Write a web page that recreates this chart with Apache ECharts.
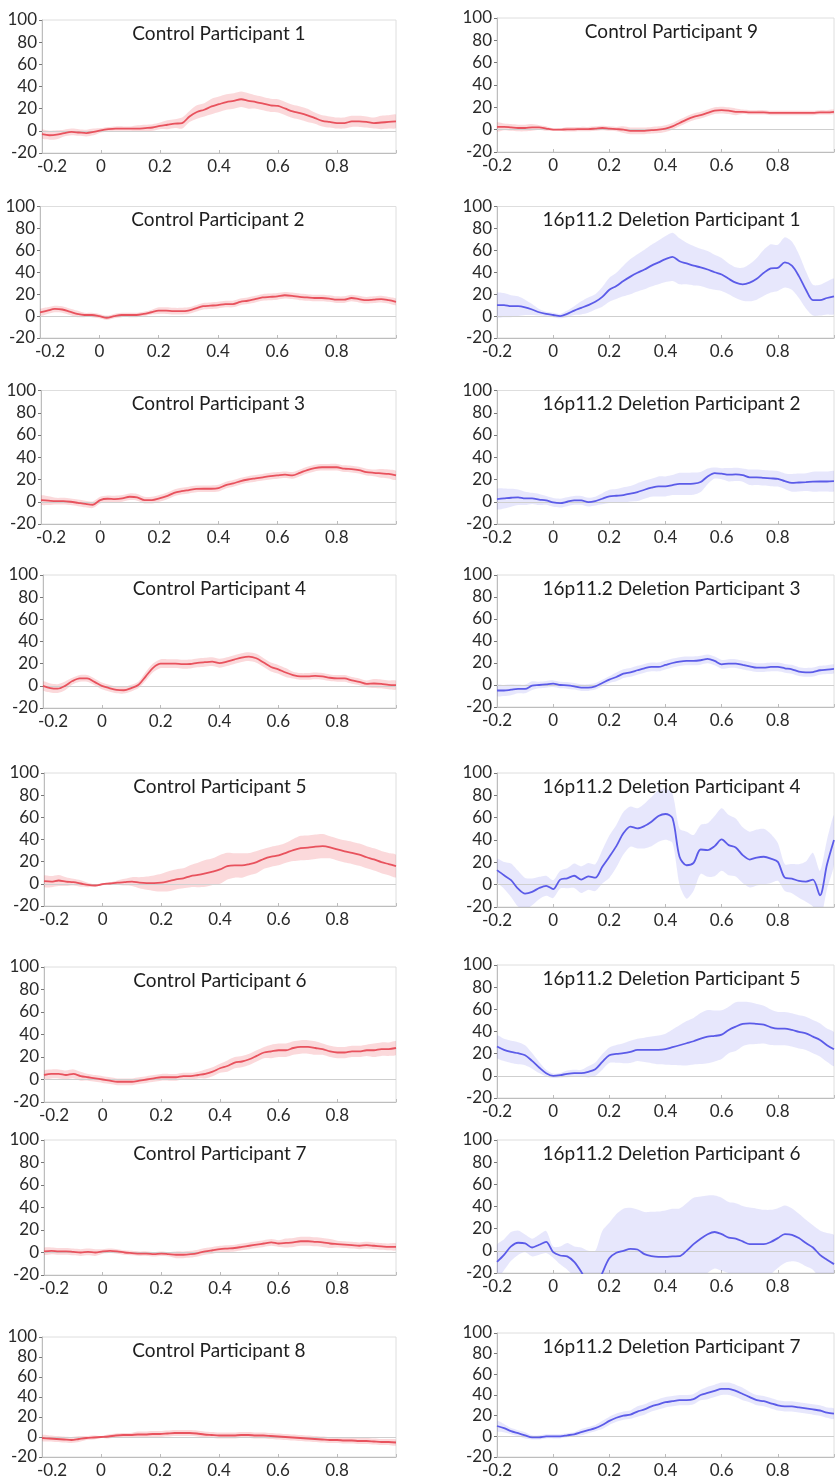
<!DOCTYPE html>
<html><head><meta charset="utf-8">
<script src="https://cdn.jsdelivr.net/npm/echarts@6/dist/echarts.min.js"></script>
<style>html,body{margin:0;padding:0;background:#fff;overflow:hidden}#chart{width:837px;height:1479px}</style>
</head><body><div id="chart"></div>
<script>
// time (s), sampled every 25 ms from -0.2 to 1.0
const timeSec = [
 -0.2,-0.175,-0.15,-0.125,-0.1,-0.075,-0.05,
 -0.025,0,0.025,0.05,0.075,0.1,0.125,
 0.15,0.175,0.2,0.225,0.25,0.275,0.3,
 0.325,0.35,0.375,0.4,0.425,0.45,0.475,
 0.5,0.525,0.55,0.575,0.6,0.625,0.65,
 0.675,0.7,0.725,0.75,0.775,0.8,0.825,
 0.85,0.875,0.9,0.925,0.95,0.975,1.0];
const xTickLabels = [-0.2,0,0.2,0.4,0.6,0.8];
const yTickLabels = [-20,0,20,40,60,80,100];

const control1Mean = [-3,-4,-3.5,-2,-1,-1.5,-2, -1,0.5,1.5,2,2,2,2, 2.5,3,4.5,5.5,6.5,7,13, 17,19,22,24,26,27,28.5, 27,26,24.5,23,22.5,20,17.5, 16,14,11.5,9,8,7,7, 8.5,8.5,8,7,7.5,8,8.5];
const control1Err  = [4,4,4,3,3,3,3, 3,2,2,2,2,2,3, 3,3,3,4,4,5,5, 6,6,7,7,7,7,7, 7,6,6,6,6,6,6, 6,6,5,5,5,5,5, 5,5,5,5,6,6,6];
const control2Mean = [3.3,5,6.5,6,4,2,1, 1,0,-1.5,0,1,1,1, 2,3.5,5,5,4.5,4.5,5, 7,9,9.5,10,11,11,13, 14,15.5,17,17.5,18,19,18.5, 17.5,17,16.5,16.5,16,15,15, 16.5,15.5,14.5,15,15.5,14.5,13];
const control2Err  = [3,3,3,3,3,3,2, 2,2,2,2,2,2,2, 2,2,3,3,3,3,3, 3,3,3,3,3,3,3, 3,3,3,3,3,3,3, 3,3,3,3,3,3,3, 3,3,3,3,3,3,3];
const control3Mean = [1.5,1,0.5,0.5,0,-1,-2, -2.7,1.5,2.7,2.4,3,4.5,4, 1.5,1.5,3,5,8,9.5,10.5, 11.5,11.7,11.7,12.3,15,16.5,18.6, 20,21,22,23,23.7,24.3,23.7, 26,28.5,30.3,31,31,31,29.7, 29.4,28.5,26.7,26,25.5,25,23.7];
const control3Err  = [4,4,3,3,3,3,3, 3,3,3,3,3,3,3, 3,3,3,3,3,3,3, 3,3,3,3,3,3,3, 3,3,3,3,3,3,3, 3,3,3,3,3,3,3, 3,3,3,3,4,4,4];
const control4Mean = [0,-2,-2.5,0,4.3,6.7,6.7, 3.6,0,-2,-3.6,-4,-2,1, 8.8,16.4,20,20,20,19.5,19.7, 20.7,21.3,21.8,20.4,21.8,23.7,25.5, 26.4,24.9,21,17,14.9,12,9.7, 8.5,8.5,9,8.5,7.3,6.7,6.7, 4.9,3.6,1.8,2.1,1.8,0.9,0.6];
const control4Err  = [4,4,4,4,3,3,3, 3,3,3,3,3,3,3, 4,4,4,4,4,4,4, 4,4,4,4,4,4,4, 4,4,4,4,4,4,3, 3,3,3,3,3,3,3, 3,3,3,4,4,4,4];
const control5Mean = [2.4,2,3,2,1.5,0.3,-1, -1.5,-0.3,0.3,1,1.5,2,1, 0.6,0.6,1,2.4,4,5,7, 8,9.4,11,13,16,16.6,16.6, 17.8,19.6,22.6,24.5,25.7,28,30.5, 32.3,32.6,33.5,34,33,31,29.3, 28,26.3,24,22,19.6,17.8,16];
const control5Err  = [5,5,5,4,3,3,2, 1,1,1,2,3,4,5, 6,7,8,9,9,9,10, 11,12,12,13,12,11,11, 10,10,9,9,9,9,10, 11,11,11,11,10,10,10, 10,10,10,10,10,10,10];
const control6Mean = [4,5,5,4,5,3,2, 1,0,-1,-2,-2,-2,-1, 0,1,2,2,2,3,3, 4,5,7,10,12,15,16, 18,21,24,25,26,26,28, 29,29,28,27,25,24,24, 25,25,26,26,27,27,28];
const control6Err  = [4,4,4,4,4,4,3, 3,3,3,3,3,3,3, 3,3,3,3,3,3,3, 3,4,4,4,5,5,5, 5,5,5,6,6,6,6, 6,6,6,5,5,5,5, 5,5,5,6,6,6,6];
const control7Mean = [1,1.5,1,1,0.5,0,0.5, 0,1,1.5,1,0,-0.5,-1, -1,-1.5,-1,-1.5,-2,-2,-1.5, -0.5,1,2,3,3.5,4,5, 6,7,8,9,8,8.5,9, 10,10,9.5,9,8,7.5,7, 6.5,6,6.5,6,5.5,5,5];
const control7Err  = [3,3,3,3,3,3,3, 3,2,2,2,2,2,2, 2,2,2,2,3,3,3, 3,3,3,3,3,3,3, 3,3,3,3,3,4,4, 4,4,4,4,4,3,3, 3,3,3,3,3,3,3];
const control8Mean = [-1,-1.5,-2,-2.5,-3,-2,-1, -0.5,0,0.5,1.5,2,2,2.5, 2.5,3,3,3.5,4,4,4, 3.5,2.5,2,1.5,1.5,1.5,2, 2,1.5,1.5,1,0.5,0,-0.5, -1,-1.5,-2,-2.5,-3,-3,-3.5, -3.5,-4,-4,-4.5,-5,-5,-5.5];
const control8Err  = [3,3,3,3,3,3,2, 2,1,2,2,2,2,3, 3,3,3,3,3,3,3, 3,3,3,3,3,3,3, 3,3,3,3,3,3,3, 3,3,3,3,3,3,3, 3,3,3,3,3,3,3];
const control9Mean = [2.5,2.5,2,1.5,1.5,2,2, 1,0,0,0.3,0.3,0.5,0.5, 1,1.5,1,0.5,0,-1,-1, -1,-0.5,0,1,3,6,9, 11.5,13,15,17,17.5,17,16, 16,15.5,15.5,15.5,15,15,15, 15,15,15,15,15.5,15.5,16];
const control9Err  = [4,3,3,3,3,3,2, 2,1,1,2,2,2,2, 2,2,2,2,3,3,3, 3,3,3,3,3,3,3, 3,3,3,3,3,3,3, 2,2,2,2,2,2,2, 2,2,2,2,2,2,2];
const deletion1Mean = [10,10,9,9,8,6,3.5, 2,1,0,2,5,7.5,10, 13,17.5,24,27.5,32,36,39.5, 42.5,46,49,52,54,50,48, 46,44.5,42.5,40,38,34,30.5, 29,30.5,34,39.5,43.5,44,49, 46,36.5,24,14.5,14.5,16.5,18];
const deletion1Err  = [11,11,10,9,7,5,3, 2,2,2,3,4,6,7, 7,9,11,12,14,16,17, 18,19,20,21,22,21,19, 18,17,17,16,15,14,14, 15,17,19,21,22,21,23, 22,20,17,14,14,15,16];
const deletion2Mean = [2.4,3,3.6,4,3,3,2, 1.2,-0.6,-1.2,0,1.2,1.2,-0.3, 0.6,2.7,4.8,5.4,6,7.2,8.7, 10.8,12.6,13.8,13.8,15,16,16, 16.2,17.7,22.8,25.8,25.2,24.3,24.6, 24,22,22,21.5,21,20.6,18.5, 17,17.3,17.6,18,18.2,18.2,18.5];
const deletion2Err  = [9,9,8,7,6,5,5, 4,4,4,4,4,4,4, 4,5,6,6,7,7,8, 8,8,9,9,9,10,10, 10,9,7,5,5,6,6, 6,7,7,7,7,7,7, 8,8,8,9,9,9,9];
const deletion3Mean = [-5,-5,-4.3,-3.6,-3.6,-0.6,0, 0.6,1.2,0,-0.3,-1.2,-2.4,-2.4, -1.2,1.8,4.9,7.3,10.3,11.5,13.4, 15.2,16.4,16.4,18.2,20,21.3,21.9, 21.9,22.5,23.7,21.9,18.8,19.5,19.5, 18.2,17,15.8,15.8,16.4,16.4,15.2, 14.3,12.2,11.5,11.8,13.4,14,14.6];
const deletion3Err  = [5,5,5,4,4,4,3, 3,3,3,3,3,3,3, 3,3,3,4,4,4,4, 4,4,4,4,4,4,4, 4,4,4,4,4,4,4, 4,4,4,4,4,4,4, 4,4,4,4,4,4,4];
const deletion4Mean = [13,8.4,4,-3.6,-8,-6.5,-3, -1,-4,4.5,5.7,8,4.5,7.5, 6.3,16,25,34.5,46,52,50.4, 52.5,56.4,61.5,63.3,59.4,25,17.4, 19.5,31.5,31,34.5,40.5,35.4,33.3, 26.4,22.5,24.3,25,23.4,20.4,6.3, 5.4,3.3,2.7,4.5,-9.6,18,40];
const deletion4Err  = [10,12,15,16,14,12,10, 9,8,8,9,11,12,12, 12,15,19,19,19,18,18, 20,22,23,23,22,25,30, 25,22,24,27,28,27,26, 25,25,25,25,22,17,12, 13,15,18,24,22,22,22];
const deletion5Mean = [26.4,23.4,21.6,20.4,18.6,13.5,7.5, 2.4,0,0.6,1.8,2.4,2.4,3.6, 6,12.6,18.6,19.8,20.4,21.6,23.4, 23.4,23.4,23.4,24,25.8,27.6,29.4, 31.2,33.6,35.4,36,37.2,41.4,44.4, 46.8,47.4,46.8,46.2,43.8,42.6,42.6, 41.4,39.6,38.4,35.4,32.4,27.6,24];
const deletion5Err  = [10,10,10,10,9,7,5, 3,2,2,3,3,3,5, 6,7,7,8,9,10,10, 11,12,13,14,16,18,20, 21,23,24,23,22,21,22, 20,19,18,17,16,15,15, 15,15,15,15,15,15,15];
const deletion6Mean = [-10,-3.6,4,7.3,6.7,3,5.5, 8,-1.2,-4.2,-5,-10,-19,-30, -35,-20,-6.7,-1.8,0,1.8,1.2, -3,-4.8,-5.5,-5.5,-5,-4.8,0, 6,11,15,17,15,12,11, 8.5,6,6,6,8,11.5,15, 14.5,11.5,7,3,-3.6,-8,-12];
const deletion6Err  = [15,14,13,11,8,8,9, 10,5,8,12,14,22,30, 35,38,32,35,38,37,36, 38,40,41,42,43,43,43, 42,38,35,33,33,32,32, 32,33,32,31,29,27,26, 24,22,21,20,22,24,26];
const deletion7Mean = [10,8,5,3,1,-1,-1, 0,0,0,1,2,4,6, 8,11,15,18,20,21,24, 26,29,31,33,34,35,35, 36,40,42,44,46,46,44, 41,38,35,34,32,30,29, 29,28,27,26,25,23,22];
const deletion7Err  = [5,4,3,3,3,2,2, 2,2,2,2,2,3,3, 3,4,4,4,4,4,5, 5,5,5,5,5,5,5, 5,5,6,6,6,6,6, 6,5,5,5,5,5,5, 5,5,5,5,5,5,5];

const panelTitles = [
  'Control Participant 1','Control Participant 2','Control Participant 3','Control Participant 4',
  'Control Participant 5','Control Participant 6','Control Participant 7','Control Participant 8',
  'Control Participant 9','16p11.2 Deletion Participant 1','16p11.2 Deletion Participant 2','16p11.2 Deletion Participant 3',
  '16p11.2 Deletion Participant 4','16p11.2 Deletion Participant 5','16p11.2 Deletion Participant 6','16p11.2 Deletion Participant 7'];
const panelMeans = [control1Mean,control2Mean,control3Mean,control4Mean,control5Mean,control6Mean,control7Mean,control8Mean,
  control9Mean,deletion1Mean,deletion2Mean,deletion3Mean,deletion4Mean,deletion5Mean,deletion6Mean,deletion7Mean];
const panelErrs = [control1Err,control2Err,control3Err,control4Err,control5Err,control6Err,control7Err,control8Err,
  control9Err,deletion1Err,deletion2Err,deletion3Err,deletion4Err,deletion5Err,deletion6Err,deletion7Err];

// ---- layout (pixels) ----
const layout = [
  {l:42,r:396,t:20,b:153},{l:40,r:396,t:206.5,b:338},{l:41,r:396,t:390.5,b:524},{l:43,r:396,t:575,b:708},
  {l:44,r:396,t:773,b:906},{l:44,r:396,t:967,b:1102},{l:44,r:396,t:1140,b:1275},{l:42,r:396,t:1337,b:1470},
  {l:497,r:846,t:18,b:152},{l:497,r:846,t:206.5,b:338},{l:497,r:846,t:390.5,b:524},{l:497,r:846,t:575,b:707},
  {l:497,r:846,t:773,b:907},{l:497,r:846,t:965,b:1098},{l:497,r:846,t:1140,b:1273},{l:497,r:846,t:1333,b:1467}];

const FONT = 'Lato';
const grids=[], xAxes=[], yAxes=[], titles=[], series=[];

function bandRenderer(fill) {
  return function (params, api) {
    if (params.dataIndexInside !== 0) return null;
    const n = params.dataInsideLength;
    const upper = [], lower = [];
    for (let k = 0; k < n; k++) {
      const x = api.value(0, k);
      upper.push(api.coord([x, api.value(2, k)]));
      lower.push(api.coord([x, api.value(1, k)]));
    }
    const pts = upper.concat(lower.reverse());
    return {type:'polygon', shape:{points:pts, smooth:0.25}, style:{fill:fill, stroke:null}, silent:true};
  };
}

panelTitles.forEach((name, i) => {
  const L = layout[i];
  const isDel = i >= 9;
  const leftCol = i < 8;
  const lineColor = isDel ? '#5b5be8' : '#e8525d';
  const bandColor = isDel ? 'rgba(110,110,240,0.17)' : 'rgba(238,80,92,0.22)';
  grids.push({left:L.l, top:L.t, width:L.r-L.l, height:L.b-L.t, show:true, borderColor:'#dedede', borderWidth:1, backgroundColor:'transparent'});
  xAxes.push({type:'value', gridIndex:i, min:-0.2, max:1.0, interval:0.2,
    axisLine:{show:true, onZero:false, lineStyle:{color:'#bdbdbd', width:1}},
    axisTick:{show:true, inside:true, length:3, lineStyle:{color:'#bdbdbd'}},
    splitLine:{show:false},
    axisLabel:{margin:5, color:'#2a2a2a', fontFamily:FONT, fontSize:17,
      formatter: v => {
        const r = Math.round(v*10)/10;
        if (xTickLabels.indexOf(r) < 0) return '';
        if (r === -0.2 && leftCol) return '{p|-0.2}';
        return String(r);
      },
      rich:{p:{padding:[0,0,0,20], color:'#2a2a2a', fontFamily:FONT, fontSize:17}}}
  });
  yAxes.push({type:'value', gridIndex:i, min:-20, max:100, interval:20,
    axisLine:{show:true, onZero:false, lineStyle:{color:'#bdbdbd', width:1}},
    axisTick:{show:true, inside:false, length:3, lineStyle:{color:'#777'}},
    splitLine:{show:false},
    axisLabel:{margin:5, color:'#2a2a2a', fontFamily:FONT, fontSize:17,
      formatter: v => yTickLabels.indexOf(v) >= 0 ? String(v) : ''}
  });
  titles.push({text:name, left:L.l+(L.r-L.l)/2-5, top:L.t-1, textAlign:'center',
    textStyle:{fontFamily:FONT, fontSize:19, fontWeight:'normal', color:'#1e1e1e'}});
  const mean = panelMeans[i], err = panelErrs[i];
  series.push({type:'custom', xAxisIndex:i, yAxisIndex:i, clip:true, silent:true, z:1,
    renderItem: bandRenderer(bandColor),
    encode:{x:0, y:[1,2]},
    data: timeSec.map((t,k)=>[t, mean[k]-err[k], mean[k]+err[k]])});
  series.push({type:'line', xAxisIndex:i, yAxisIndex:i,
    data: timeSec.map((t,k)=>[t, mean[k]]), symbol:'none', smooth:0.3, silent:true,
    lineStyle:{color:lineColor, width:1.8}, z:3,
    markLine:{silent:true, symbol:'none', label:{show:false}, animation:false, z:2,
      lineStyle:{color:'#cfcfcf', width:1.2, type:'solid'}, data:[{yAxis:0}]}});
});

const chart = echarts.init(document.getElementById('chart'), null, {renderer:'canvas'});
chart.setOption({animation:false, backgroundColor:'#ffffff', title:titles, grid:grids, xAxis:xAxes, yAxis:yAxes, series:series});
</script></body></html>
